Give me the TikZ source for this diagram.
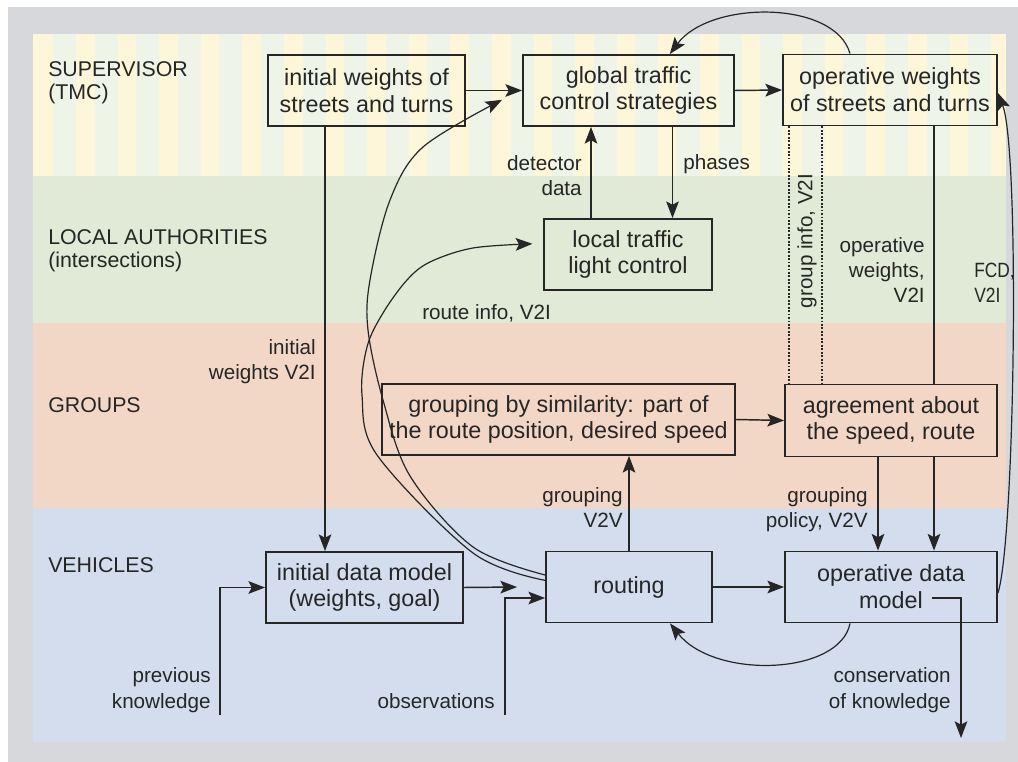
\documentclass[tikz,border=0pt]{standalone}
\usepackage{fontspec}
\setmainfont{Liberation Sans}
\newfontfamily\narrowfam{Liberation Sans}[FakeStretch=0.84]
\usetikzlibrary{arrows.meta,calc}
\definecolor{frame}{HTML}{D6D8DB}
\definecolor{supY}{HTML}{FEF6D8}
\definecolor{supB}{HTML}{EFF4E8}
\definecolor{locG}{HTML}{E0EAD6}
\definecolor{grpS}{HTML}{F3D7C6}
\definecolor{vehB}{HTML}{D3DDEE}
\definecolor{ink}{HTML}{262626}
\newcommand\boxfont{\fontsize{17.5}{20.2}\selectfont}
\newcommand\lblfont{\fontsize{15.5}{18.8}\selectfont}
\newcommand\layerfont{\fontsize{16}{17.5}\selectfont}
\begin{document}
\begin{tikzpicture}[x=0.75pt,y=-0.75pt,
  box/.style={draw=ink, line width=1.4pt, rectangle, align=center, inner sep=0pt,
    text=ink, font=\boxfont, minimum height=53.25pt},
  lbl/.style={text=ink, font=\lblfont, inner sep=0pt, align=right, anchor=base east},
  lbll/.style={text=ink, font=\lblfont, inner sep=0pt, align=left, anchor=base west},
  layer/.style={text=ink, font=\layerfont, inner sep=0pt, align=left, anchor=base west},
  tip/.style={-{Stealth[length=12.5pt,width=9.5pt,inset=2.5pt]}},
  arr/.style={draw=ink, line width=1.1pt, tip},
  link/.style={draw=ink, line width=1.1pt},
  arc/.style={draw=ink, line width=0.9pt, tip},
  dots/.style={draw=ink, line width=1.7pt, dash pattern=on 1.4pt off 1.2pt},
]
\useasboundingbox (0,0) rectangle (1018,762);
% frame and layer bands
\fill[white] (0,0) rectangle (1018,762);
\fill[frame] (8,7) rectangle (1018,762);
\fill[supY] (33,34) rectangle (1006,176);
\begin{scope}
  \clip (33,34) rectangle (1006,176);
  \foreach \i in {0,...,24} {
    \fill[supB] (53+41.6*\i,34) rectangle ++(23,142);
  }
\end{scope}
\fill[locG] (33,176) rectangle (1006,323);
\fill[grpS] (33,323) rectangle (1006,508);
\fill[vehB] (33,508) rectangle (1006,742);

% layer titles
\node[layer] (lsup) at (48,100) {SUPERVISOR\\(TMC)};
\node[layer] (lloc) at (48,268) {LOCAL AUTHORITIES\\(intersections)};
\node[layer] (lgrp) at (48,413) {GROUPS};
\node[layer] (lveh) at (48,573) {VEHICLES};

% boxes
\node[box, minimum width=147.75pt] (iw) at (366.5,90.5) {initial weights of\\streets and turns};
\node[box, minimum width=158.25pt] (gt) at (628.5,90.5) {global traffic\\control strategies};
\node[box, minimum width=160.5pt] (ow) at (890,90) {operative weights\\of streets and turns};
\node[box, minimum width=126pt] (lt) at (628,254.5) {local traffic\\light control};
\node[box, minimum width=264.75pt] (gs) at (558.5,419.5) {grouping by similarity: part of\\the route position, desired speed};
\node[box, minimum width=159pt, minimum height=54pt] (ag) at (891,420.5) {agreement about\\the speed, route};
\node[box, minimum width=147.75pt] (id) at (364.5,587.5) {initial data model\\(weights, goal)};
\node[box, minimum width=124.5pt] (rt) at (629,587) {routing};
\node[box, minimum width=159pt] (od) at (891,587) {operative data\\model};

% free ends
\coordinate (prev) at (220,715);
\coordinate (obs) at (505,715);
\coordinate (cons) at ([shift={(30.75pt,-8.25pt)}]od.center);

% supervisor level
\draw[arr] (iw.east) -- (gt.west);
\draw[arr] (gt.east) -- (ow.west);
\draw[arc] ([xshift=-30pt]ow.north) .. controls (835,0) and (710,0) .. ([xshift=31pt]gt.north);
\draw[arr] ([xshift=-27.75pt]lt.north) -- ([xshift=-27.75pt]lt.north |- gt.south);
\draw[arr] ([xshift=33pt]gt.south) -- ([xshift=33pt]gt.south |- lt.north);
\node[lbl] (ldet) at (582,196) {detector\\data};
\node[lbll] (lph) at (683,170) {phases};

% links down from the operative weights
\draw[dots] ([xshift=-75.75pt]ow.south) -- ([xshift=-75.75pt]ow.south |- ag.north);
\draw[dots] ([xshift=-51pt]ow.south) -- ([xshift=-51pt]ow.south |- ag.north);
\node[rotate=90, text=ink, font=\lblfont, inner sep=0pt] (lgi) at (807,241) {group info, V2I};
\draw[link] ([xshift=33pt]ow.south) -- ([xshift=33pt]ow.south |- ag.north);
\node[lbl] (low) at (925,303) {operative\\weights,\\V2I};
\draw[arr] ([xshift=32.25pt]ag.south) -- ([xshift=32.25pt]ag.south |- od.north);
\draw[arr] ([xshift=-9.75pt]ag.south) -- ([xshift=-9.75pt]ag.south |- od.north);
\node[lbl] (lgp) at (868,528) {grouping\\policy, V2V};

% floating car data back up
\draw[arc] ([yshift=-4.5pt]od.east) .. controls (1015,540) and (1020,150) .. ([yshift=-2.25pt]ow.east);
\node[lbll, font=\narrowfam\lblfont] (lfcd) at (974,303) {FCD,\\V2I};

% groups level
\draw[arr] (gs.east) -- (ag.west);
\draw[arr] (rt.north) -- (rt.north |- gs.south);
\node[lbl] (lgv) at (623,528) {grouping\\V2V};

% vehicles level
\draw[arr] ([xshift=-31.125pt]iw.south) -- ([xshift=-31.125pt]iw.south |- id.north);
\node[lbl] (liw) at (316,380) {initial\\weights V2I};
\draw[arr] (id.east) -- ([xshift=-21pt]rt.west);
\draw[arr] (prev) |- (id.west);
\node[lbl] (lprev) at (211,708) {previous\\knowledge};
\draw[arr] (obs) |- ([yshift=-8.25pt]rt.west);
\node[lbl] (lobs) at (495,708) {observations};
\draw[arr] (rt.east) -- (od.west);
\draw[arc] ([xshift=-30.75pt]od.south) .. controls (840,675) and (715,680) .. ([xshift=30.75pt]rt.south);
\draw[arr] (cons) -- ++(29,0) -- ++(0,140);
\node[lbl] (lcons) at (951,708) {conservation\\of knowledge};

% routing information sent upwards
\draw[arc] plot[smooth, tension=0.55] coordinates {([yshift=9pt]rt.west) (473,547) (410,476) (383,400) (368,330) (370,280) (390,200) (423,147) ([shift={(-15pt,-7pt)}]gt.west)};
\draw[arc] plot[smooth, tension=0.55] coordinates {([yshift=5pt]rt.west) (473,553) (377,455) (362,395) (367,347) (383,313) (407,280) (430,262) (473,248) ([shift={(-8pt,8pt)}]lt.west)};
\node[lbll] (lri) at (422,320) {route info, V2I};
\end{tikzpicture}
\end{document}
